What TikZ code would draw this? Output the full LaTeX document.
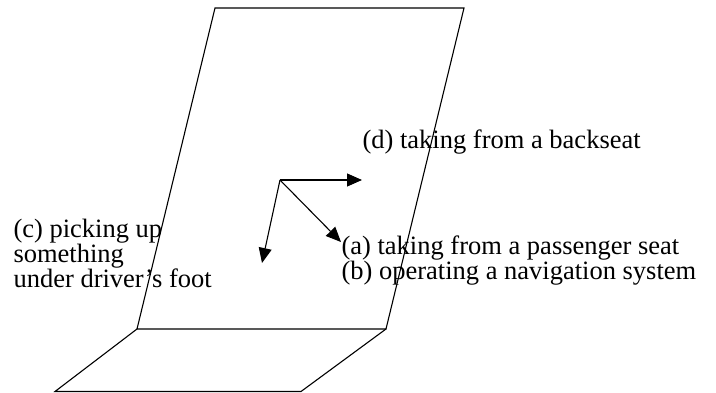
\documentclass[tikz,border=0pt]{standalone}
\usepackage{fontspec}
\setmainfont{Liberation Serif}
\usetikzlibrary{arrows.meta}

\begin{document}
\begin{tikzpicture}[x=1pt,y=-1pt,line width=1.1pt,
  note/.style={inner sep=0pt,align=left,font=\fontsize{26.5}{25}\selectfont},
  move/.style={-{Triangle[length=15pt,width=13pt]}}]
\useasboundingbox (0,0) rectangle (716,392);
% backrest and seat
\coordinate (bk1) at (215,8);
\coordinate (bk2) at (464,8);
\coordinate (bk3) at (386,329);
\coordinate (bk4) at (137,329);
\coordinate (st3) at (301,391.5);
\coordinate (st4) at (55,391.5);
\draw (bk1) -- (bk2) -- (bk3) -- (bk4) -- cycle;
\draw (bk4) -- (st4) -- (st3) -- (bk3);
% hand movements
\coordinate (hand) at (280,180);
\coordinate (back) at (362,180);
\coordinate (pass) at (341,242);
\coordinate (foot) at (262,263);
\path[move] (hand) edge (back)
            (hand) edge (pass)
            (hand) edge (foot);
\node[note,anchor=base west] (d) at (362,148) {(d) taking from a backseat};
\node[note,anchor=base west] (ab) at (341,279) {(a) taking from a passenger seat\\(b) operating a navigation system};
\node[note,anchor=base west] (c) at (13,287) {(c) picking up\\something\\under driver’s foot};
\end{tikzpicture}
\end{document}
